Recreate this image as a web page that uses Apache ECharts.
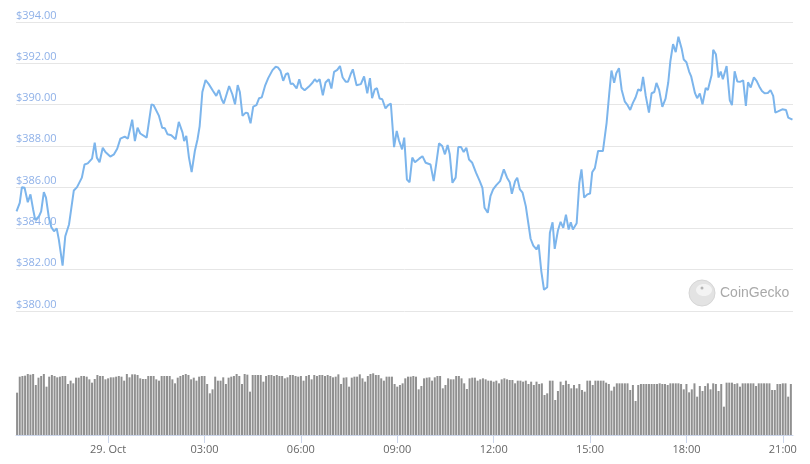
<!DOCTYPE html>
<html><head><meta charset="utf-8">
<script src="https://cdn.jsdelivr.net/npm/echarts@6/dist/echarts.min.js"></script>
<style>html,body{margin:0;padding:0;background:#fff}#c{width:810px;height:464px}</style>
</head><body><div id="c"></div>
<script>
// ETH price (USD), 28-29 Oct 2020
const priceTimes = [
'2020-10-28 21:09','2020-10-28 21:15','2020-10-28 21:19','2020-10-28 21:24','2020-10-28 21:30','2020-10-28 21:35','2020-10-28 21:40','2020-10-28 21:44','2020-10-28 21:51','2020-10-28 21:55',
'2020-10-28 22:00','2020-10-28 22:04','2020-10-28 22:09','2020-10-28 22:14','2020-10-28 22:19','2020-10-28 22:24','2020-10-28 22:28','2020-10-28 22:35','2020-10-28 22:40','2020-10-28 22:47',
'2020-10-28 22:51','2020-10-28 22:56','2020-10-28 23:02','2020-10-28 23:11','2020-10-28 23:16','2020-10-28 23:22','2020-10-28 23:30','2020-10-28 23:35','2020-10-28 23:39','2020-10-28 23:44',
'2020-10-28 23:50','2020-10-28 23:55','2020-10-29 00:04','2020-10-29 00:11','2020-10-29 00:17','2020-10-29 00:23','2020-10-29 00:31','2020-10-29 00:37','2020-10-29 00:45','2020-10-29 00:50',
'2020-10-29 00:55','2020-10-29 01:00','2020-10-29 01:12','2020-10-29 01:21','2020-10-29 01:25','2020-10-29 01:35','2020-10-29 01:41','2020-10-29 01:46','2020-10-29 01:51','2020-10-29 01:58',
'2020-10-29 02:06','2020-10-29 02:12','2020-10-29 02:19','2020-10-29 02:22','2020-10-29 02:26','2020-10-29 02:31','2020-10-29 02:36','2020-10-29 02:42','2020-10-29 02:47','2020-10-29 02:51',
'2020-10-29 02:56','2020-10-29 03:02','2020-10-29 03:08','2020-10-29 03:16','2020-10-29 03:22','2020-10-29 03:27','2020-10-29 03:32','2020-10-29 03:36','2020-10-29 03:46','2020-10-29 03:52',
'2020-10-29 03:57','2020-10-29 04:02','2020-10-29 04:06','2020-10-29 04:11','2020-10-29 04:17','2020-10-29 04:21','2020-10-29 04:26','2020-10-29 04:31','2020-10-29 04:37','2020-10-29 04:42',
'2020-10-29 04:47','2020-10-29 04:53','2020-10-29 04:59','2020-10-29 05:07','2020-10-29 05:13','2020-10-29 05:17','2020-10-29 05:22','2020-10-29 05:27','2020-10-29 05:32','2020-10-29 05:36',
'2020-10-29 05:41','2020-10-29 05:45','2020-10-29 05:52','2020-10-29 05:57','2020-10-29 06:01','2020-10-29 06:07','2020-10-29 06:15','2020-10-29 06:22','2020-10-29 06:26','2020-10-29 06:30',
'2020-10-29 06:35','2020-10-29 06:41','2020-10-29 06:46','2020-10-29 06:52','2020-10-29 06:57','2020-10-29 07:02','2020-10-29 07:08','2020-10-29 07:13','2020-10-29 07:18','2020-10-29 07:24',
'2020-10-29 07:28','2020-10-29 07:33','2020-10-29 07:37','2020-10-29 07:44','2020-10-29 07:52','2020-10-29 07:58','2020-10-29 08:04','2020-10-29 08:09','2020-10-29 08:13','2020-10-29 08:18',
'2020-10-29 08:22','2020-10-29 08:27','2020-10-29 08:32','2020-10-29 08:38','2020-10-29 08:43','2020-10-29 08:48','2020-10-29 08:54','2020-10-29 08:59','2020-10-29 09:03','2020-10-29 09:09',
'2020-10-29 09:13','2020-10-29 09:18','2020-10-29 09:23','2020-10-29 09:28','2020-10-29 09:33','2020-10-29 09:41','2020-10-29 09:47','2020-10-29 09:53','2020-10-29 10:02','2020-10-29 10:08',
'2020-10-29 10:13','2020-10-29 10:18','2020-10-29 10:24','2020-10-29 10:29','2020-10-29 10:34','2020-10-29 10:38','2020-10-29 10:43','2020-10-29 10:49','2020-10-29 10:54','2020-10-29 10:59',
'2020-10-29 11:04','2020-10-29 11:09','2020-10-29 11:14','2020-10-29 11:20','2020-10-29 11:27','2020-10-29 11:34','2020-10-29 11:39','2020-10-29 11:43','2020-10-29 11:49','2020-10-29 11:54',
'2020-10-29 11:59','2020-10-29 12:05','2020-10-29 12:12','2020-10-29 12:19','2020-10-29 12:25','2020-10-29 12:30','2020-10-29 12:34','2020-10-29 12:40','2020-10-29 12:44','2020-10-29 12:49',
'2020-10-29 12:54','2020-10-29 13:00','2020-10-29 13:09','2020-10-29 13:14','2020-10-29 13:20','2020-10-29 13:24','2020-10-29 13:29','2020-10-29 13:34','2020-10-29 13:40','2020-10-29 13:45',
'2020-10-29 13:50','2020-10-29 13:54','2020-10-29 14:00','2020-10-29 14:05','2020-10-29 14:10','2020-10-29 14:15','2020-10-29 14:20','2020-10-29 14:24','2020-10-29 14:28','2020-10-29 14:35',
'2020-10-29 14:40','2020-10-29 14:44','2020-10-29 14:49','2020-10-29 14:55','2020-10-29 15:00','2020-10-29 15:04','2020-10-29 15:09','2020-10-29 15:15','2020-10-29 15:24','2020-10-29 15:31',
'2020-10-29 15:36','2020-10-29 15:40','2020-10-29 15:45','2020-10-29 15:49','2020-10-29 15:54','2020-10-29 15:59','2020-10-29 16:05','2020-10-29 16:10','2020-10-29 16:15','2020-10-29 16:20',
'2020-10-29 16:25','2020-10-29 16:30','2020-10-29 16:35','2020-10-29 16:39','2020-10-29 16:44','2020-10-29 16:50','2020-10-29 16:55','2020-10-29 17:00','2020-10-29 17:04','2020-10-29 17:09',
'2020-10-29 17:15','2020-10-29 17:21','2020-10-29 17:26','2020-10-29 17:30','2020-10-29 17:35','2020-10-29 17:40','2020-10-29 17:45','2020-10-29 17:51','2020-10-29 17:55','2020-10-29 18:00',
'2020-10-29 18:05','2020-10-29 18:09','2020-10-29 18:16','2020-10-29 18:20','2020-10-29 18:25','2020-10-29 18:30','2020-10-29 18:36','2020-10-29 18:40','2020-10-29 18:47','2020-10-29 18:50',
'2020-10-29 18:55','2020-10-29 19:00','2020-10-29 19:04','2020-10-29 19:08','2020-10-29 19:15','2020-10-29 19:21','2020-10-29 19:25','2020-10-29 19:30','2020-10-29 19:35','2020-10-29 19:40',
'2020-10-29 19:46','2020-10-29 19:51','2020-10-29 19:55','2020-10-29 20:00','2020-10-29 20:06','2020-10-29 20:11','2020-10-29 20:16','2020-10-29 20:21','2020-10-29 20:26','2020-10-29 20:32',
'2020-10-29 20:37','2020-10-29 20:42','2020-10-29 20:46','2020-10-29 20:51','2020-10-29 20:59','2020-10-29 21:06','2020-10-29 21:10','2020-10-29 21:18'
];
const prices = [
384.83,385.24,386.00,385.97,385.27,385.65,384.92,384.40,384.59,384.83,
385.76,385.49,384.59,384.06,383.86,384.00,383.46,382.20,383.62,384.19,
384.92,385.84,386.00,386.46,387.10,387.15,387.38,388.16,387.43,387.21,
387.91,387.70,387.48,387.59,387.86,388.35,388.45,388.35,389.27,388.23,
388.88,388.60,388.40,390.01,389.97,389.45,388.88,388.85,388.56,388.51,
388.32,389.16,388.64,388.23,388.48,387.43,386.73,387.75,388.32,388.96,
390.61,391.19,390.99,390.66,390.42,390.71,390.26,390.05,390.90,390.50,
390.01,390.94,390.61,389.45,389.61,389.58,389.09,389.90,389.97,390.31,
390.35,390.90,391.28,391.67,391.83,391.80,391.63,391.15,391.47,391.52,
390.99,391.02,390.78,391.23,390.83,390.69,390.87,391.07,391.23,391.10,
391.23,390.45,391.07,391.23,390.78,391.58,391.68,391.87,391.31,391.10,
391.11,391.47,391.71,390.94,390.99,391.36,390.55,391.28,390.31,390.74,
390.79,390.29,390.26,389.81,389.97,390.05,387.94,388.72,388.27,387.83,
388.40,386.37,386.24,387.43,387.21,387.38,387.50,387.18,387.10,386.29,
387.18,388.12,387.99,387.59,388.04,387.59,386.21,386.46,387.94,387.94,
387.70,387.91,387.34,387.18,386.70,386.29,385.97,385.00,384.76,385.56,
385.89,386.10,386.29,386.86,386.46,386.24,385.68,386.29,386.46,385.89,
385.73,385.08,383.50,383.17,382.98,383.22,381.92,381.03,381.15,383.79,
384.30,383.01,383.90,384.32,384.03,384.67,383.95,384.30,383.95,384.25,
386.21,386.86,385.49,385.65,385.69,386.72,386.92,387.75,387.75,389.13,
390.58,391.65,391.05,391.52,391.76,390.72,390.14,389.97,389.74,390.08,
390.34,390.74,390.66,391.34,390.42,389.61,390.55,390.61,391.05,390.71,
389.89,390.29,391.07,392.10,392.93,392.54,393.29,392.72,392.18,392.05,
391.60,391.35,390.55,390.31,390.54,390.01,390.80,390.71,391.43,392.65,
392.44,391.31,391.60,391.23,391.87,390.20,389.97,391.61,391.12,391.10,
391.17,389.93,391.08,390.83,391.32,391.15,390.88,390.66,390.55,390.56,
390.70,390.42,389.61,389.67,389.77,389.74,389.37,389.27
];

// Volume bars, one every 5 minutes
const volumeStart = '2020-10-28 21:10';
const volumeStepMinutes = 5;
const volumes = [
127,175,177,178,183,181,183,150,172,177,
183,145,175,180,177,173,175,177,177,153,
163,155,172,172,177,177,175,167,157,168,
180,177,177,167,170,173,173,175,177,175,
163,183,173,182,182,180,170,168,168,177,
177,177,167,163,177,177,177,177,167,155,
172,177,180,183,180,167,172,163,175,177,
177,153,125,137,175,163,163,173,153,172,
175,177,183,177,153,183,181,130,180,180,
180,180,160,177,180,180,177,180,177,177,
170,173,180,180,177,175,177,163,177,180,
167,180,177,180,180,177,180,177,173,175,
182,153,172,173,145,172,175,175,182,170,
160,177,183,185,180,180,170,163,175,175,
175,153,145,150,155,170,175,175,
177,175,137,147,170,172,173,163,173,177,
177,140,150,170,167,167,177,177,170,
155,138,170,172,172,163,167,170,167,163,
163,160,163,155,167,170,167,165,165,155,
163,163,160,163,153,160,150,160,153,155,
120,125,163,163,105,132,160,150,163,153,
140,150,140,153,135,130,163,163,150,163,
163,163,163,157,153,133,145,155,155,155,
155,155,135,150,102,150,153,153,153,153,
153,153,153,155,153,153,150,155,155,155,
155,153,137,153,128,137,155,115,147,132,
147,155,137,155,153,132,153,85,157,157,
157,153,155,145,155,155,155,155,155,147,
155,155,155,155,155,135,135,153,153,155,
155,115,153
];

const axisStart = '2020-10-28 21:08';
const axisEnd = '2020-10-29 21:19';
const tickTimes = ['2020-10-29 00:00','2020-10-29 03:00','2020-10-29 06:00','2020-10-29 09:00','2020-10-29 12:00','2020-10-29 15:00','2020-10-29 18:00','2020-10-29 21:00'];
const tickLabels = ['29. Oct','03:00','06:00','09:00','12:00','15:00','18:00','21:00'];

const toMs = s => new Date(s.replace(' ', 'T') + ':00').getTime();
const priceData = priceTimes.map((t, i) => [toMs(t), prices[i]]);
const v0 = toMs(volumeStart);
const volumeData = volumes.map((v, i) => [v0 + i * volumeStepMinutes * 60000, v]);
const tickMs = tickTimes.map(toMs);
const xMin = toMs(axisStart), xMax = toMs(axisEnd);

const chart = echarts.init(document.getElementById('c'), null, {renderer: 'canvas'});
const FONT = '"Open Sans", "Noto Sans", sans-serif';
chart.setOption({
  animation: false,
  backgroundColor: '#ffffff',
  grid: [
    {left: 16, right: 17, top: 22, height: 289},
    {left: 16, right: 17, top: 372, height: 63}
  ],
  xAxis: [
    {type: 'value', gridIndex: 0, min: xMin, max: xMax, show: false, splitLine: {show: false}},
    {type: 'value', gridIndex: 1, min: xMin, max: xMax, scale: true,
     axisLine: {show: true, onZero: false, lineStyle: {color: '#ccd6eb', width: 1}},
     axisTick: {show: true, length: 8, customValues: tickMs, lineStyle: {color: '#ccd6eb'}},
     axisLabel: {customValues: tickMs, margin: 9, color: '#666666', fontSize: 11, fontFamily: FONT,
       showMinLabel: true, showMaxLabel: true,
       formatter: v => { const i = tickMs.indexOf(v); return i >= 0 ? tickLabels[i] : ''; }},
     splitLine: {show: false}}
  ],
  yAxis: [
    {type: 'value', gridIndex: 0, min: 380, max: 394, interval: 2,
     axisLine: {show: false}, axisTick: {show: false},
     splitLine: {show: true, lineStyle: {color: '#e6e6e6', width: 1}},
     axisLabel: {inside: true, margin: 0, verticalAlign: 'bottom', color: '#8fb1e8', fontSize: 11, fontFamily: FONT,
       padding: [0, 0, 1, 0],
       formatter: v => '$' + v.toFixed(2)}},
    {type: 'value', gridIndex: 1, min: 0, max: 189, show: false, splitLine: {show: false}}
  ],
  series: [
    {type: 'line', xAxisIndex: 0, yAxisIndex: 0, data: priceData, showSymbol: false, symbol: 'none',
     lineStyle: {color: '#7cb5ec', width: 2}, itemStyle: {color: '#7cb5ec'}},
    {type: 'bar', xAxisIndex: 1, yAxisIndex: 1, data: volumeData, barWidth: 2,
     itemStyle: {color: '#909090'}}
  ],
  graphic: [
    {type: 'circle', shape: {cx: 702, cy: 293, r: 13}, style: {fill: '#e3e3e3', stroke: '#d6d6d6', lineWidth: 1}},
    {type: 'ellipse', shape: {cx: 704, cy: 290, rx: 8, ry: 6}, style: {fill: '#f3f3f3'}},
    {type: 'circle', shape: {cx: 702, cy: 288, r: 1.5}, style: {fill: '#b5b5b5'}},
    {type: 'text', x: 720, y: 293, style: {text: 'CoinGecko', fill: '#a9a9a9', fontSize: 14,
      fontFamily: '"Liberation Sans", Arial, sans-serif', verticalAlign: 'middle'}}
  ]
});
</script>
</body></html>
